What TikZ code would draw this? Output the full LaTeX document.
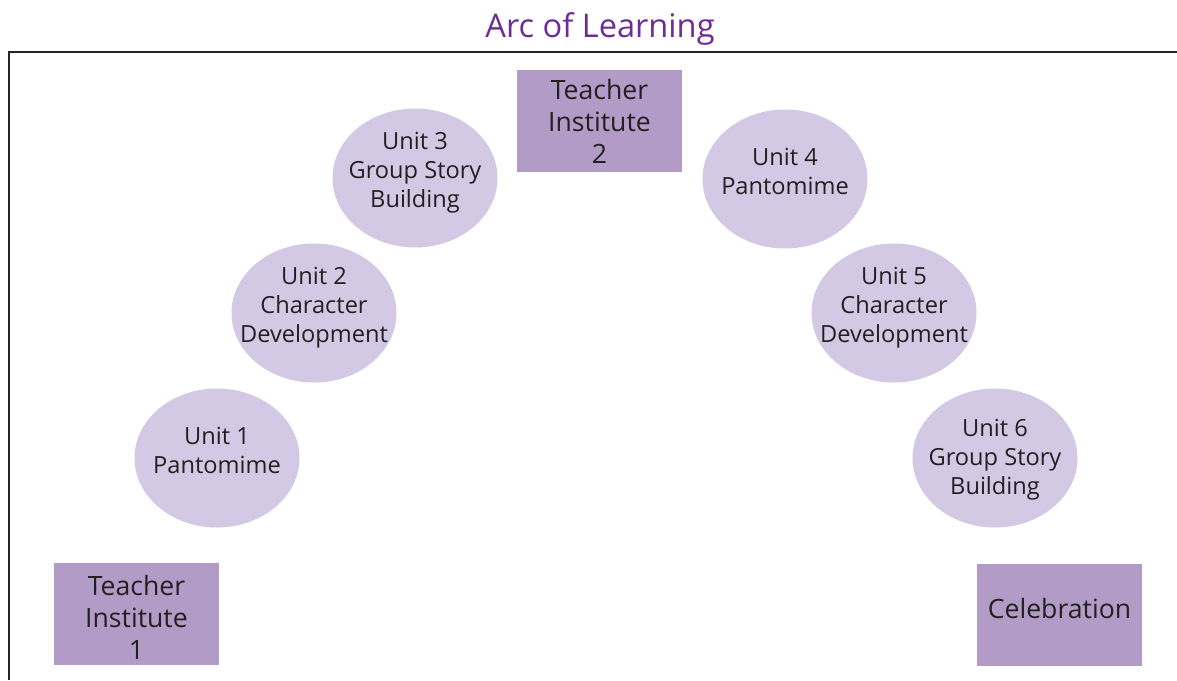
\documentclass[tikz,border=0pt]{standalone}
\usepackage{fontspec}
\setmainfont{Open Sans}
\definecolor{boxpurple}{HTML}{B39BC8}
\definecolor{unitlilac}{HTML}{D4C9E4}
\definecolor{titlepurple}{HTML}{6E2C96}
\definecolor{inkgray}{HTML}{231F20}
\usetikzlibrary{shapes.geometric}
\begin{document}
\begin{tikzpicture}[
        x=0.5pt, y=-0.5pt,
        every node/.style={text=inkgray, align=center},
        institute/.style={rectangle, fill=boxpurple, minimum width=82.5pt, minimum height=51pt, inner sep=0pt, font=\fontsize{13.3}{16}\selectfont},
        unit/.style={ellipse, fill=unitlilac, minimum width=82.5pt, minimum height=69.5pt, inner xsep=-30pt, inner ysep=-10pt, text depth=8pt, font=\fontsize{11.8}{14.5}\selectfont},
        frame/.style={line width=1pt, draw=black!85}
    ]
        \useasboundingbox (0,0) rectangle (1177,680);

        % Titolo
        \node[text=titlepurple, font=\fontsize{16.3}{19}\selectfont] (title) at (600,29) {Arc of Learning};

        % Cornice
        \draw[frame] (9,680) -- (9,52) -- (1177,52);

        % Teacher institutes e celebrazione
        \node[institute, text height=45.5pt] (ti1) at (136.5,614) {Teacher\\Institute\\1};
        \node[institute] (ti2) at (599.5,121) {Teacher\\Institute\\2};
        \node[institute, text depth=7pt] (celeb) at (1059.5,615) {Celebration};

        % Unita' (arco)
        \node[unit] (u1) at (217,458) {Unit 1\\Pantomime};
        \node[unit] (u2) at (314,313) {Unit 2\\Character\\Development};
        \node[unit] (u3) at (415,178) {Unit 3\\Group Story\\Building};
        \node[unit] (u4) at (785,179) {Unit 4\\Pantomime};
        \node[unit] (u5) at (894,313) {Unit 5\\Character\\Development};
        \node[unit, text depth=1pt] (u6) at (995,458) {Unit 6\\Group Story\\Building};

    \end{tikzpicture}
\end{document}
